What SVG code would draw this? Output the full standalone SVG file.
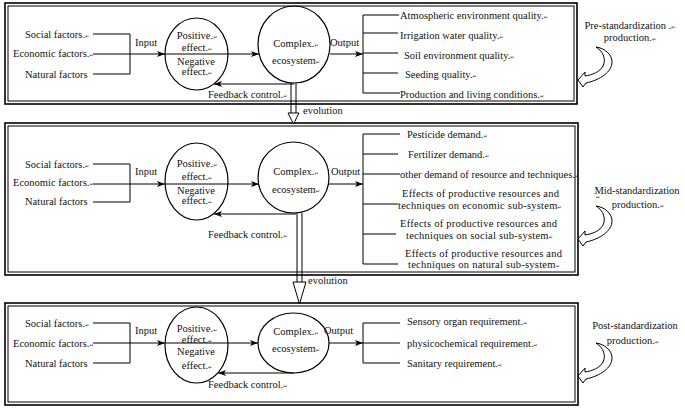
<svg xmlns="http://www.w3.org/2000/svg" width="685" height="409" viewBox="0 0 685 409">
<defs>
<style>
.t{font-family:"Liberation Serif","Times New Roman",serif;font-size:10.5px;fill:#111}
.c{text-anchor:middle}
.w{letter-spacing:0.25px}
.m{font-family:"DejaVu Sans",sans-serif;font-size:5px;fill:#333}
.ln{stroke:#000;stroke-width:1;fill:none}
.fo{stroke:#000;stroke-width:1.6;fill:none}
.fi{stroke:#000;stroke-width:1;fill:none}
.el{stroke:#000;stroke-width:1.2;fill:none}
.ev{stroke:#000;stroke-width:1;fill:#fff}
.cu{stroke:#000;stroke-width:1;fill:#fff}
</style>
<marker id="ah" viewBox="0 0 8 6" refX="8" refY="3" markerWidth="8" markerHeight="6" markerUnits="userSpaceOnUse" orient="auto">
<path d="M0,0 L8,3 L0,6 L2,3 Z" fill="#000"/>
</marker>
<path id="curl" d="M0 0 L7 -8 L7 -4 C14 -5 22 -8 25 -14 C28 -20 26 -28 18 -33 C26 -32 34 -26 34 -18 C34 -8 22 0 8 3 L5 7 Z"/>
</defs>

<g id="frames">
<rect class="fo" x="5" y="3" width="572" height="101"/>
<rect class="fi" x="8" y="6" width="566" height="95"/>
<rect class="fo" x="5" y="123" width="573" height="152"/>
<rect class="fi" x="8" y="126" width="567" height="146"/>
<rect class="fo" x="5" y="303" width="573" height="102"/>
<rect class="fi" x="8" y="306" width="567" height="96"/>
</g>

<g id="connectors">
<path class="ln" d="M93 34 H130 V74 H93"/>
<path class="ln" d="M93 54 H165" marker-end="url(#ah)"/>
<path class="ln" d="M165 54 H259" marker-end="url(#ah)"/>
<path class="ln" d="M330 54 H363" marker-end="url(#ah)"/>
<path class="ln" d="M363 15 V93 M363 15 H399 M363 33 H398 M363 53 H398 M363 73 H398 M363 93 H400"/>
<path class="ln" d="M294 84 H214" marker-end="url(#ah)"/>
<path class="ln" d="M93 164 H130 V202 H93"/>
<path class="ln" d="M93 184 H165" marker-end="url(#ah)"/>
<path class="ln" d="M165 184 H259" marker-end="url(#ah)"/>
<path class="ln" d="M329 184 H363" marker-end="url(#ah)"/>
<path class="ln" d="M363 134 V264 M363 134 H400 M363 154 H398 M363 174 H400 M363 204 H398 M363 234 H396 M363 264 H398"/>
<path class="ln" d="M296 214 H214" marker-end="url(#ah)"/>
<path class="ln" d="M93 323 H130 V363 H93"/>
<path class="ln" d="M93 343 H165" marker-end="url(#ah)"/>
<path class="ln" d="M165 343 H258" marker-end="url(#ah)"/>
<path class="ln" d="M329 343 H363" marker-end="url(#ah)"/>
<path class="ln" d="M363 323 V363 M363 323 H400 M363 343 H400 M363 363 H400"/>
<path class="ln" d="M294 373 H218" marker-end="url(#ah)"/>
<path class="ln" d="M291 83 V113 M296 83 V113"/>
<polygon class="ev" points="288,113 299,113 293.5,124"/>
<path class="ln" d="M297 213 V282 M302 213 V282"/>
<polygon class="ev" points="293,282 306,282 299.5,304"/>
<use href="#curl" class="cu" transform="translate(578,80)"/>
<use href="#curl" class="cu" transform="translate(578,239)"/>
<use href="#curl" class="cu" transform="translate(578,376)"/>
</g>

<g id="s1-inputs">
<text class="t" x="25" y="37.5">Social factors.<tspan class="m">↵</tspan></text>
<text class="t" x="13" y="57">Economic factors.<tspan class="m">↵</tspan></text>
<text class="t" x="25" y="77.5">Natural factors</text>
<text class="t" x="135" y="45.5">Input</text>
</g>
<g id="s1-effect">
<ellipse class="el" cx="196.5" cy="54" rx="31.5" ry="36"/>
<text class="t c" x="197" y="38.5">Positive.<tspan class="m">↵</tspan></text>
<text class="t c" x="197" y="50.5">effect.<tspan class="m">↵</tspan></text>
<text class="t c" x="196" y="65">Negative</text>
<text class="t c" x="197" y="75">effect.<tspan class="m">↵</tspan></text>
</g>
<g id="s1-ecosystem">
<ellipse class="el" cx="294" cy="44.5" rx="36" ry="38.5"/>
<text class="t c" x="296" y="46.5">Complex.<tspan class="m">↵</tspan></text>
<text class="t c" x="296" y="63.5">ecosystem<tspan class="m">↵</tspan></text>
</g>
<g id="s1-feedback">
<text class="t" x="208" y="97.5">Feedback control.<tspan class="m">↵</tspan></text>
</g>
<g id="s1-outputs">
<text class="t" x="330" y="45.5">Output</text>
<text class="t" x="400" y="18.5">Atmospheric environment quality.<tspan class="m">↵</tspan></text>
<text class="t" x="400" y="38.5">Irrigation water quality.<tspan class="m">↵</tspan></text>
<text class="t" x="404" y="58.5">Soil environment quality.<tspan class="m">↵</tspan></text>
<text class="t" x="405" y="77.5">Seeding quality.<tspan class="m">↵</tspan></text>
<text class="t" x="400" y="97.5">Production and living conditions.<tspan class="m">↵</tspan></text>
</g>
<g id="s1-label">
<text class="t c" x="630" y="28.5">Pre-standardization .<tspan class="m">↵</tspan></text>
<text class="t c" x="630" y="40.5">production.<tspan class="m">↵</tspan></text>
</g>
<g id="evolution-1">
<text class="t" x="303" y="113.5">evolution</text>
</g>

<g id="s2-inputs">
<text class="t" x="25" y="167.5">Social factors.<tspan class="m">↵</tspan></text>
<text class="t" x="13" y="185.5">Economic factors.<tspan class="m">↵</tspan></text>
<text class="t" x="25" y="205">Natural factors</text>
<text class="t" x="135" y="174.5">Input</text>
</g>
<g id="s2-effect">
<ellipse class="el" cx="196.5" cy="181.5" rx="31.5" ry="38.5"/>
<text class="t c" x="197" y="167">Positive.<tspan class="m">↵</tspan></text>
<text class="t c" x="197" y="180">effect.<tspan class="m">↵</tspan></text>
<text class="t c" x="196" y="193.5">Negative</text>
<text class="t c" x="197" y="203.5">effect.<tspan class="m">↵</tspan></text>
</g>
<g id="s2-ecosystem">
<ellipse class="el" cx="293.5" cy="177.5" rx="35.5" ry="35.5"/>
<text class="t c" x="296" y="175">Complex.<tspan class="m">↵</tspan></text>
<text class="t c" x="296" y="192.5">ecosystem<tspan class="m">↵</tspan></text>
</g>
<g id="s2-feedback">
<text class="t" x="208" y="237.5">Feedback control.<tspan class="m">↵</tspan></text>
</g>
<g id="s2-outputs">
<text class="t" x="331" y="174.5">Output</text>
<text class="t" x="407" y="137.5">Pesticide demand.<tspan class="m">↵</tspan></text>
<text class="t" x="408" y="157.5">Fertilizer demand.<tspan class="m">↵</tspan></text>
<text class="t" x="400" y="177.5">other demand of resource and techniques.<tspan class="m">↵</tspan></text>
<text class="t w" x="402" y="196.8">Effects of productive resources and</text>
<text class="t w" x="398" y="208.5">techniques on economic sub-system<tspan class="m">↵</tspan></text>
<text class="t w" x="400" y="226.5">Effects of productive resources and</text>
<text class="t w" x="406" y="238.5">techniques on social sub-system<tspan class="m">↵</tspan></text>
<text class="t w" x="405" y="257">Effects of productive resources and</text>
<text class="t w" x="408" y="268">techniques on natural sub-system<tspan class="m">↵</tspan></text>
</g>
<g id="s2-label">
<text class="t c" x="637" y="193.5">Mid-standardization</text>
<text class="m" x="596" y="199">↵</text>
<text class="t c" x="638" y="207.5">production.<tspan class="m">↵</tspan></text>
</g>
<g id="evolution-2">
<text class="t" x="308" y="284">evolution</text>
</g>

<g id="s3-inputs">
<text class="t" x="25" y="326.5">Social factors.<tspan class="m">↵</tspan></text>
<text class="t" x="13" y="346.5">Economic factors.<tspan class="m">↵</tspan></text>
<text class="t" x="25" y="366.5">Natural factors</text>
<text class="t" x="135" y="333.5">Input</text>
</g>
<g id="s3-effect">
<ellipse class="el" cx="196.5" cy="345" rx="31.5" ry="38"/>
<text class="t c" x="197" y="331.5">Positive.<tspan class="m">↵</tspan></text>
<text class="t c" x="197" y="343">effect.<tspan class="m">↵</tspan></text>
<text class="t c" x="196" y="355">Negative</text>
<text class="t c" x="197" y="368.5">effect.<tspan class="m">↵</tspan></text>
</g>
<g id="s3-ecosystem">
<ellipse class="el" cx="293.5" cy="343" rx="35.5" ry="30"/>
<text class="t c" x="296" y="335">Complex.<tspan class="m">↵</tspan></text>
<text class="t c" x="296" y="351.5">ecosystem<tspan class="m">↵</tspan></text>
</g>
<g id="s3-feedback">
<text class="t" x="208" y="387.5">Feedback control.<tspan class="m">↵</tspan></text>
</g>
<g id="s3-outputs">
<text class="t" x="324" y="333.5">Output</text>
<text class="t" x="407" y="324.5">Sensory organ requirement.<tspan class="m">↵</tspan></text>
<text class="t" x="407" y="347">physicochemical requirement.<tspan class="m">↵</tspan></text>
<text class="t" x="407" y="366.8">Sanitary requirement.<tspan class="m">↵</tspan></text>
</g>
<g id="s3-label">
<text class="t c" x="635" y="328.5">Post-standardization</text>
<text class="t c" x="633" y="343.5">production.<tspan class="m">↵</tspan></text>
</g>
</svg>
